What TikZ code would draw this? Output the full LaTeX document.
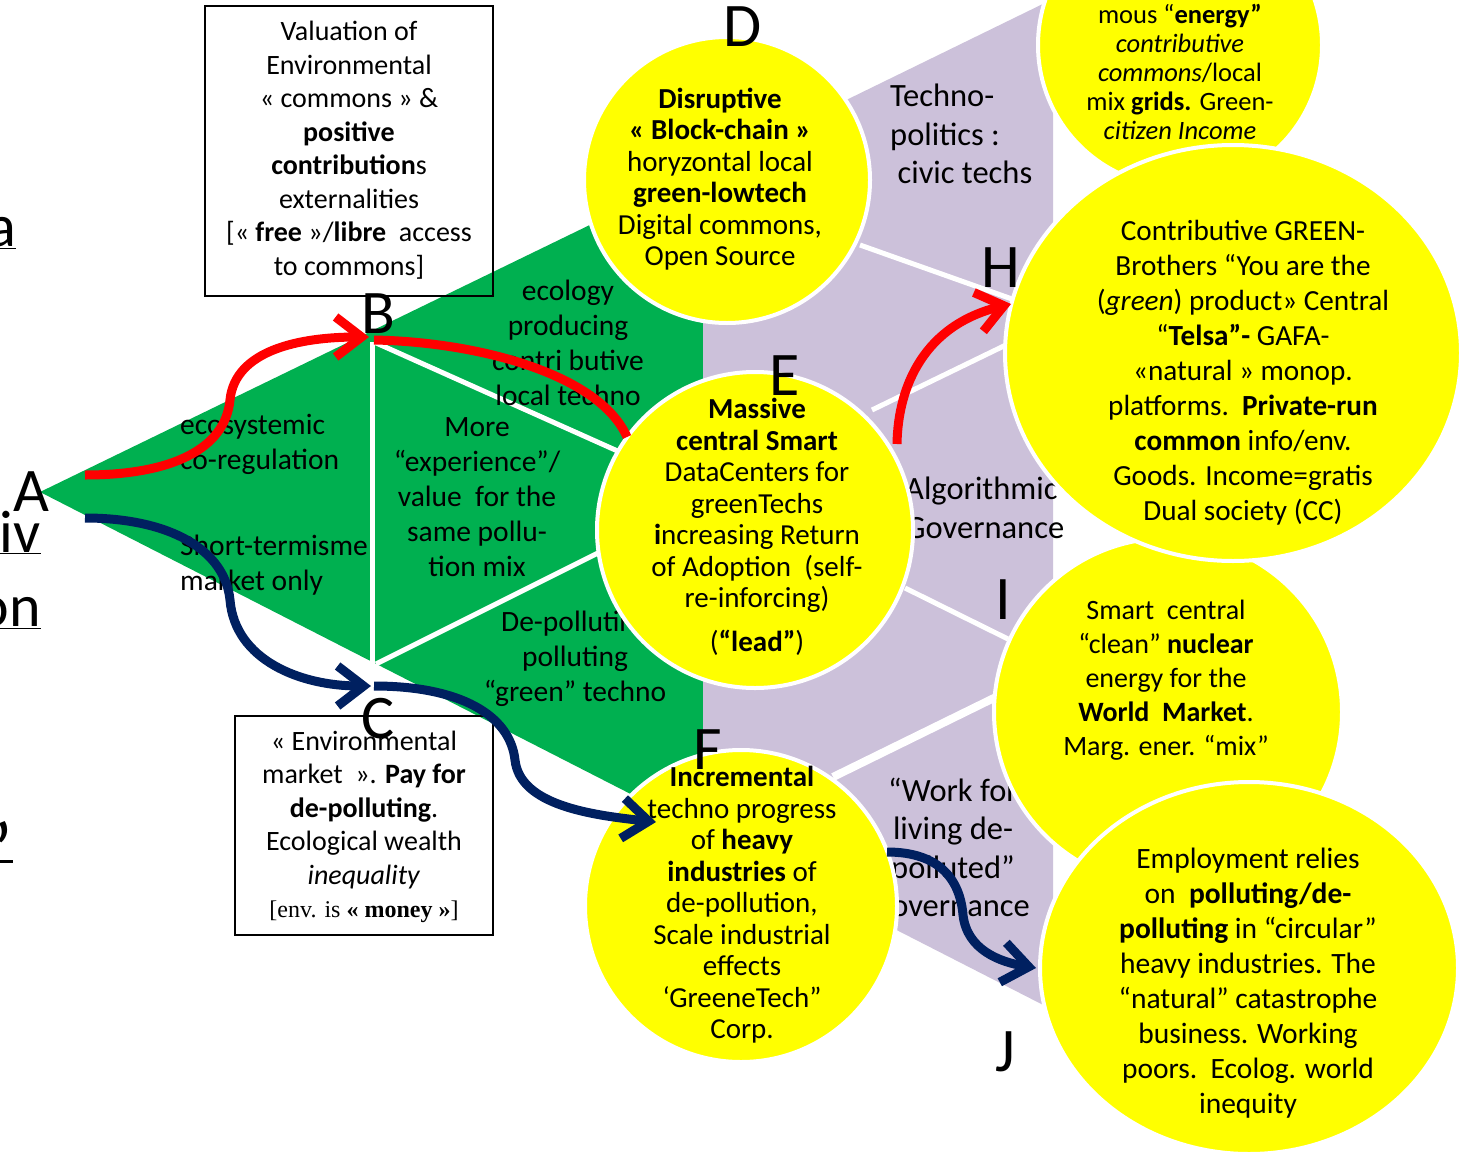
\documentclass[tikz,border=0pt]{standalone}
\usepackage{fontspec}
\setmainfont{Carlito}
\newfontfamily\timesf{Liberation Serif}
\usetikzlibrary{shapes.geometric,arrows.meta}
\definecolor{grn}{HTML}{00B050}
\definecolor{lav}{HTML}{CCC1DA}
\definecolor{yel}{HTML}{FFFF00}
\definecolor{navy}{HTML}{002060}
\newcommand{\fsz}[2]{\fontsize{#1}{#2}\selectfont}
\begin{document}
\begin{tikzpicture}[x=1pt,y=-1pt,
  ycirc/.style={circle, fill=yel, draw=white, line width=4pt, inner sep=0pt},
  yell/.style={ellipse, fill=yel, draw=white, line width=4pt, inner sep=0pt},
  wline/.style={draw=white, line width=5pt},
  txt/.style={align=center, inner sep=0pt},
  ltxt/.style={align=left, inner sep=0pt, anchor=west},
  letter/.style={inner sep=0pt, font=\fsz{62}{62}},
  frag/.style={inner sep=0pt, anchor=base east, font=\fsz{60}{60}},
  tbox/.style={draw=black, line width=1.3pt, inner sep=0pt},
  redline/.style={draw=red, line width=9pt},
  redarr/.style={redline, -{Straight Barb[length=26pt,width=40pt]}},
  bluline/.style={draw=navy, line width=9pt},
  bluarr/.style={bluline, -{Straight Barb[length=26pt,width=40pt]}}
]
\useasboundingbox (0,0) rectangle (1461,1159);
\clip (0,0) rectangle (1461,1159);
\fill[white] (0,0) rectangle (1461,1159);

% regions
\fill[grn] (40,492) -- (703,170) -- (703,831) -- cycle;
\fill[lav] (703,170) -- (1053,-1) -- (1053,1010) -- (703,831) -- cycle;

% tiling lines
\draw[wline] (372,342) -- (372,665);
\draw[wline] (374,342) -- (622,453);
\draw[wline] (376,664) -- (602,551);
\draw[wline] (860,245) -- (1012,299);
\draw[wline] (872,410) -- (1010,343);
\draw[wline] (905,588) -- (1008,639);
\draw[wline, line width=8pt] (833,777) -- (998,696);

% texts in green region
\node[ltxt, font=\fsz{29.5}{35}] (g1) at (180,444) {ecosystemic\\co-regulation};
\node[ltxt, font=\fsz{29.5}{35}] (g2) at (180,565) {Short-termisme\\market only};
\node[txt, font=\fsz{29.5}{35}] (g3) at (477,497) {More\\“experience”/\\value\ \ for the\\same pollu-\\tion mix};
\node[txt, font=\fsz{29.5}{35}] (g4) at (568,343) {ecology\\producing\\contri butive\\local techno};
\node[txt, font=\fsz{29.5}{35}] (g5) at (575,659) {De-polluting\\polluting\\“green” techno};

% texts in lavender region
\node[ltxt, font=\fsz{32.5}{38.5}] (l1) at (890,134) {Techno-\\politics :\\\ civic techs};
\node[ltxt, font=\fsz{32.5}{38.5}] (l2) at (905,508) {Algorithmic\\Governance};
\node[txt, font=\fsz{32.5}{38.5}] (l3) at (953,850) {“Work for\\living de-\\polluted”\\governance};

% circles
\node[ycirc, minimum size=286pt] (Dc) at (727,180) {};
\node[ycirc, minimum size=316pt] (Ec) at (755,530) {};
\node[ycirc, minimum size=312pt] (Fc) at (741,906) {};
\node[ycirc, minimum size=284pt] (Gc) at (1180,45) {};
\node[ycirc, minimum size=348pt] (Ic) at (1168,712) {};
\node[yell, minimum width=456pt, minimum height=416pt] (Hc) at (1233,353) {};
\node[yell, minimum width=418pt, minimum height=372pt] (Jc) at (1249,968) {};

% circle texts
\node[txt, font=\fsz{29}{31.5}] (Dt) at (720,179) {\textbf{Disruptive}\\\textbf{« Block-chain »}\\horyzontal local\\\textbf{green-lowtech}\\Digital commons,\\Open Source};
\node[txt, font=\fsz{29}{31.5}] (Et) at (757,527) {\textbf{Massive}\\\textbf{central Smart}\\DataCenters for\\greenTechs\\\textbf{i}ncreasing Return\\of Adoption\ \ (self-\\re-inforcing)\\[12pt](\textbf{“lead”})};
\node[txt, font=\fsz{29}{31.5}] (Ft) at (742,905) {\textbf{Incremental}\\techno progress\\of \textbf{heavy}\\\textbf{industries} of\\de-pollution,\\Scale industrial\\effects\\‘GreeneTech”\\Corp.};
\node[txt, font=\fsz{26.5}{29}] (Gt) at (1180,72) {mous “\textbf{energy”}\\\textit{contributive}\\\textit{commons}/local\\mix \textbf{grids.} Green-\\\textit{citizen Income}};
\node[txt, font=\fsz{29.2}{35}] (Ht) at (1243,373) {Contributive GREEN-\\Brothers “You are the\\(\textit{green}) product» Central\\“\textbf{Telsa”-} GAFA-\\«natural » monop.\\platforms.\ \ \textbf{Private-run}\\\textbf{common} info/env.\\Goods. Income=gratis\\Dual society (CC)};
\node[txt, font=\fsz{28}{34}] (It) at (1166,680) {Smart\ \ central\\“clean” \textbf{nuclear}\\energy for the\\\textbf{World\ \ Market}.\\Marg. ener. “mix”};
\node[txt, font=\fsz{29.5}{35}] (Jt) at (1248,983) {Employment relies\\on\ \ \textbf{polluting/de-}\\\textbf{polluting} in “circular”\\heavy industries. The\\“natural” catastrophe\\business. Working\\poors.\ \ Ecolog. world\\inequity};

% boxes
\node[tbox, minimum width=288pt, minimum height=290pt] (box1) at (349,151) {};
\node[txt, font=\fsz{28}{33.5}] (box1t) at (349,150) {Valuation of\\Environmental\\« commons » \&\\\textbf{positive}\\\textbf{contribution}s\\externalities\\{[}« \textbf{free} »/\textbf{libre}\ \ access\\to commons{]}};
\node[tbox, minimum width=258pt, minimum height=219pt] (box2) at (364,825.5) {};
\node[txt, font=\fsz{28}{33.5}] (box2t) at (364,827) {« Environmental\\market\ \ ». \textbf{Pay for}\\\textbf{de-polluting}.\\Ecological wealth\\\textit{inequality}\\{\timesf\fsz{24}{33.5}[env. is \textbf{« money »}]}};

% letters
\node[letter] (lA) at (31,492) {A};
\node[letter] (lB) at (378,314) {B};
\node[letter] (lC) at (378,719) {C};
\node[letter] (lD) at (743,27) {D};
\node[letter] (lE) at (785,376) {E};
\node[letter] (lF) at (708,750) {F};
\node[letter] (lH) at (1001,268) {H};
\node[letter] (lI) at (1003,600) {I};
\node[letter] (lJ) at (1005,1052) {J};

% cut-off fragments at the left edge
\node[frag] (fa) at (16,246) {\underline{a}};
\node[frag] (fiv) at (41,552) {\underline{iv}};
\node[frag] (fon) at (41,626) {\underline{on}};
\node[frag, font=\fsz{78}{78}] (fco) at (13,876) {’};
\draw[line width=3pt] (0,861) -- (13,861);

% connectors
\coordinate (r1s) at (85,475);
\coordinate (r1e) at (369,337);
\coordinate (r2s) at (374,340);
\coordinate (r2e) at (627,437);
\coordinate (r3s) at (897,444);
\coordinate (r3e) at (1011,304);
\coordinate (b1s) at (85,518);
\coordinate (b1e) at (371,686);
\coordinate (b2s) at (374,686);
\coordinate (b2e) at (656,822);
\coordinate (b3s) at (887,852);
\coordinate (b3e) at (1036,968);

\draw[redarr] (r1s) .. controls (170,475) and (225,450) .. (230,400) .. controls (235,350) and (300,337) .. (r1e);
\draw[redline] (r2s) .. controls (480,342) and (600,375) .. (r2e);
\draw[redarr] (r3s) .. controls (898,385) and (925,325) .. (r3e);
\draw[bluarr] (b1s) .. controls (170,518) and (225,550) .. (230,600) .. controls (235,660) and (300,686) .. (b1e);
\draw[bluarr] (b2s) .. controls (460,686) and (510,715) .. (515,760) .. controls (520,805) and (590,815) .. (b2e);
\draw[bluarr] (b3s) .. controls (940,852) and (960,880) .. (963,915) .. controls (967,950) and (1000,962) .. (b3e);
\end{tikzpicture}
\end{document}
